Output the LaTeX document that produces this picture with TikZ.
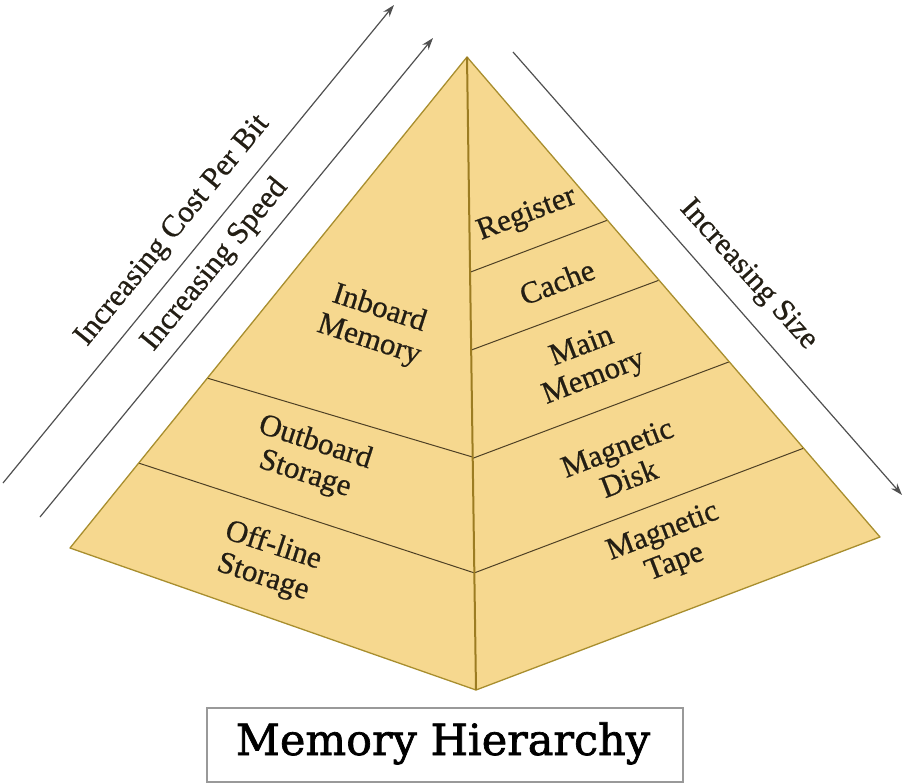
\documentclass[tikz,border=0pt]{standalone}
\usepackage{fontspec}
\setmainfont[FakeBold=0.6]{Liberation Serif}
\newfontfamily\titlefont[FakeBold=1.6]{DejaVu Serif}
\usetikzlibrary{arrows.meta,calc}
\definecolor{pyrfill}{HTML}{F6D88F}
\definecolor{pyredge}{HTML}{A88E2E}
\definecolor{divline}{HTML}{4E4024}
\definecolor{frontedge}{HTML}{9C7C22}
\definecolor{arrowgray}{HTML}{505050}
\definecolor{txt}{HTML}{231E14}
\begin{document}
\begin{tikzpicture}[x=1pt,y=-1pt,
  lbl/.style={font=\fontsize{31}{33}\selectfont, align=center, text=txt, inner sep=0pt},
  sidearrow/.style={draw=arrowgray, line width=1.2pt, -{Stealth[length=12pt,width=8pt]}},
  divider/.style={draw=divline, line width=1pt},
  outline/.style={draw=pyredge, line width=1.3pt, line join=round}]
\useasboundingbox (0,0) rectangle (908,784);
% pyramid corners
\coordinate (A) at (467,57);
\coordinate (L) at (70,548);
\coordinate (B) at (476,690);
\coordinate (R) at (880,537);
\fill[pyrfill] (A)--(L)--(B)--(R)--cycle;
% left face dividers
\draw[divider] ($(A)!0.654!(L)$) -- ($(A)!0.632!(B)$);
\draw[divider] ($(A)!0.827!(L)$) -- ($(A)!0.815!(B)$);
% right face dividers
\draw[divider] ($(A)!0.340!(B)$) -- ($(A)!0.340!(R)$);
\draw[divider] ($(A)!0.463!(B)$) -- ($(A)!0.465!(R)$);
\draw[divider] ($(A)!0.634!(B)$) -- ($(A)!0.635!(R)$);
\draw[divider] ($(A)!0.815!(B)$) -- ($(A)!0.815!(R)$);
\draw[outline] (A)--(L)--(B)--(R)--cycle;
\draw[frontedge, line width=2pt] (A)--(B);
% side arrows
\coordinate (c1s) at (3,483);
\coordinate (c1e) at (394,5);
\coordinate (c2s) at (40,517);
\coordinate (c2e) at (433,38);
\coordinate (c3s) at (513,52);
\coordinate (c3e) at (902,495);
\draw[sidearrow] (c1s) -- (c1e);
\draw[sidearrow] (c2s) -- (c2e);
\draw[sidearrow] (c3s) -- (c3e);
\node[lbl, rotate=50.7] (cost) at (173,231) {Increasing Cost Per Bit};
\node[lbl, rotate=50.7] (speed) at (215,265) {Increasing Speed};
\node[lbl, rotate=-48] (size) at (748,275) {Increasing Size};
% left face labels
\node[lbl, rotate=-18] (inboard) at (374,325) {Inboard\\Memory};
\node[lbl, rotate=-18] (outboard) at (310,459) {Outboard\\Storage};
\node[lbl, rotate=-18] (offline) at (268,562) {Off-line\\Storage};
% right face labels
\node[lbl, rotate=21] (register) at (527,215) {Register};
\node[lbl, rotate=21] (cache) at (557,282) {Cache};
\node[lbl, rotate=21] (mainmem) at (588,363) {Main\\Memory};
\node[lbl, rotate=21] (disk) at (623,463) {Magnetic\\Disk};
\node[lbl, rotate=21] (tape) at (669,548) {Magnetic\\Tape};
% title
\node[draw=gray!80, line width=1.3pt, minimum width=476pt, minimum height=74pt, inner sep=0pt] (titlebox) at (445,745) {};
\node[font=\titlefont\fontsize{43}{43}\selectfont, text=black, anchor=base, inner sep=0pt] (title) at (443,755) {Memory Hierarchy};
\end{tikzpicture}
\end{document}
